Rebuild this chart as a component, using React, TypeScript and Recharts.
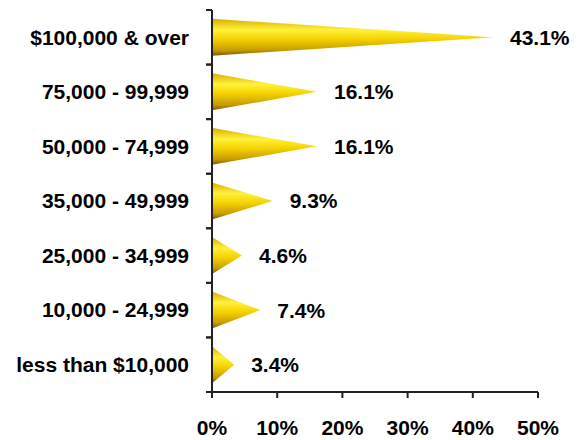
import { BarChart, Bar, XAxis, YAxis, LabelList } from "recharts";

const incomeGroups = [
  "$100,000 & over",
  "75,000 - 99,999",
  "50,000 - 74,999",
  "35,000 - 49,999",
  "25,000 - 34,999",
  "10,000 - 24,999",
  "less than $10,000",
];
const shares = [43.1, 16.1, 16.1, 9.3, 4.6, 7.4, 3.4];
const pctTicks = [0, 10, 20, 30, 40, 50];

const data = incomeGroups.map((name, i) => ({ name, value: shares[i] }));

const WIDTH = 580;
const HEIGHT = 440;
const TOP = 10;
const XAXIS_H = 48;
const BAND = (HEIGHT - TOP - XAXIS_H) / incomeGroups.length;
const FONT = "'Liberation Sans', Arial, sans-serif";
const FONT_SIZE = 21;

// cone: triangle pointing right, shaded top-to-bottom
const Cone = (props: any) => {
  const { x, y, width, height } = props;
  if (!width || width <= 0) return null;
  return (
    <path
      d={`M${x},${y} L${x + width},${y + height / 2} L${x},${y + height} Z`}
      fill="url(#coneFill)"
    />
  );
};

const CategoryTick = (props: any) => {
  const { x, y, payload } = props;
  const axisX = x + 22;
  return (
    <g>
      <line x1={axisX - 6} x2={axisX} y1={y - BAND / 2} y2={y - BAND / 2} stroke="#222" strokeWidth={2} />
      <line x1={axisX - 6} x2={axisX} y1={y + BAND / 2} y2={y + BAND / 2} stroke="#222" strokeWidth={2} />
      <text
        x={axisX - 23}
        y={y}
        dy="0.35em"
        textAnchor="end"
        fontFamily={FONT}
        fontWeight="bold"
        fontSize={FONT_SIZE}
        fill="#000"
      >
        {payload.value}
      </text>
    </g>
  );
};

export default function App() {
  return (
    <div style={{ position: "absolute", left: 0, top: 0, background: "#fff" }}>
      <BarChart
        width={WIDTH}
        height={HEIGHT}
        data={data}
        layout="vertical"
        margin={{ top: TOP, right: 42, bottom: 0, left: 0 }}
        barCategoryGap="16%"
      >
        <defs>
          <linearGradient id="coneFill" x1="0" y1="0" x2="0" y2="1">
            <stop offset="0%" stopColor="#D9AE00" />
            <stop offset="30%" stopColor="#FFF23A" />
            <stop offset="55%" stopColor="#F5D200" />
            <stop offset="85%" stopColor="#C89A00" />
            <stop offset="100%" stopColor="#7A5A00" />
          </linearGradient>
        </defs>
        <XAxis
          type="number"
          domain={[0, 50]}
          ticks={pctTicks}
          tickFormatter={(v) => `${v}%`}
          height={XAXIS_H}
          axisLine={{ stroke: "#222", strokeWidth: 2 }}
          tickLine={{ stroke: "#222", strokeWidth: 2 }}
          tickSize={6}
          tickMargin={22}
          tick={{ fontFamily: FONT, fontWeight: "bold", fontSize: FONT_SIZE, fill: "#000" }}
        />
        <YAxis
          type="category"
          dataKey="name"
          width={212}
          axisLine={{ stroke: "#222", strokeWidth: 2 }}
          tickLine={false}
          tickSize={0}
          tickMargin={22}
          tick={<CategoryTick />}
          interval={0}
        />
        <Bar dataKey="value" shape={<Cone />} isAnimationActive={false}>
          <LabelList
            dataKey="value"
            position="right"
            offset={17}
            formatter={(v: any) => `${v}%`}
            style={{ fontFamily: FONT, fontWeight: "bold", fontSize: FONT_SIZE, fill: "#000" }}
          />
        </Bar>
      </BarChart>
    </div>
  );
}
